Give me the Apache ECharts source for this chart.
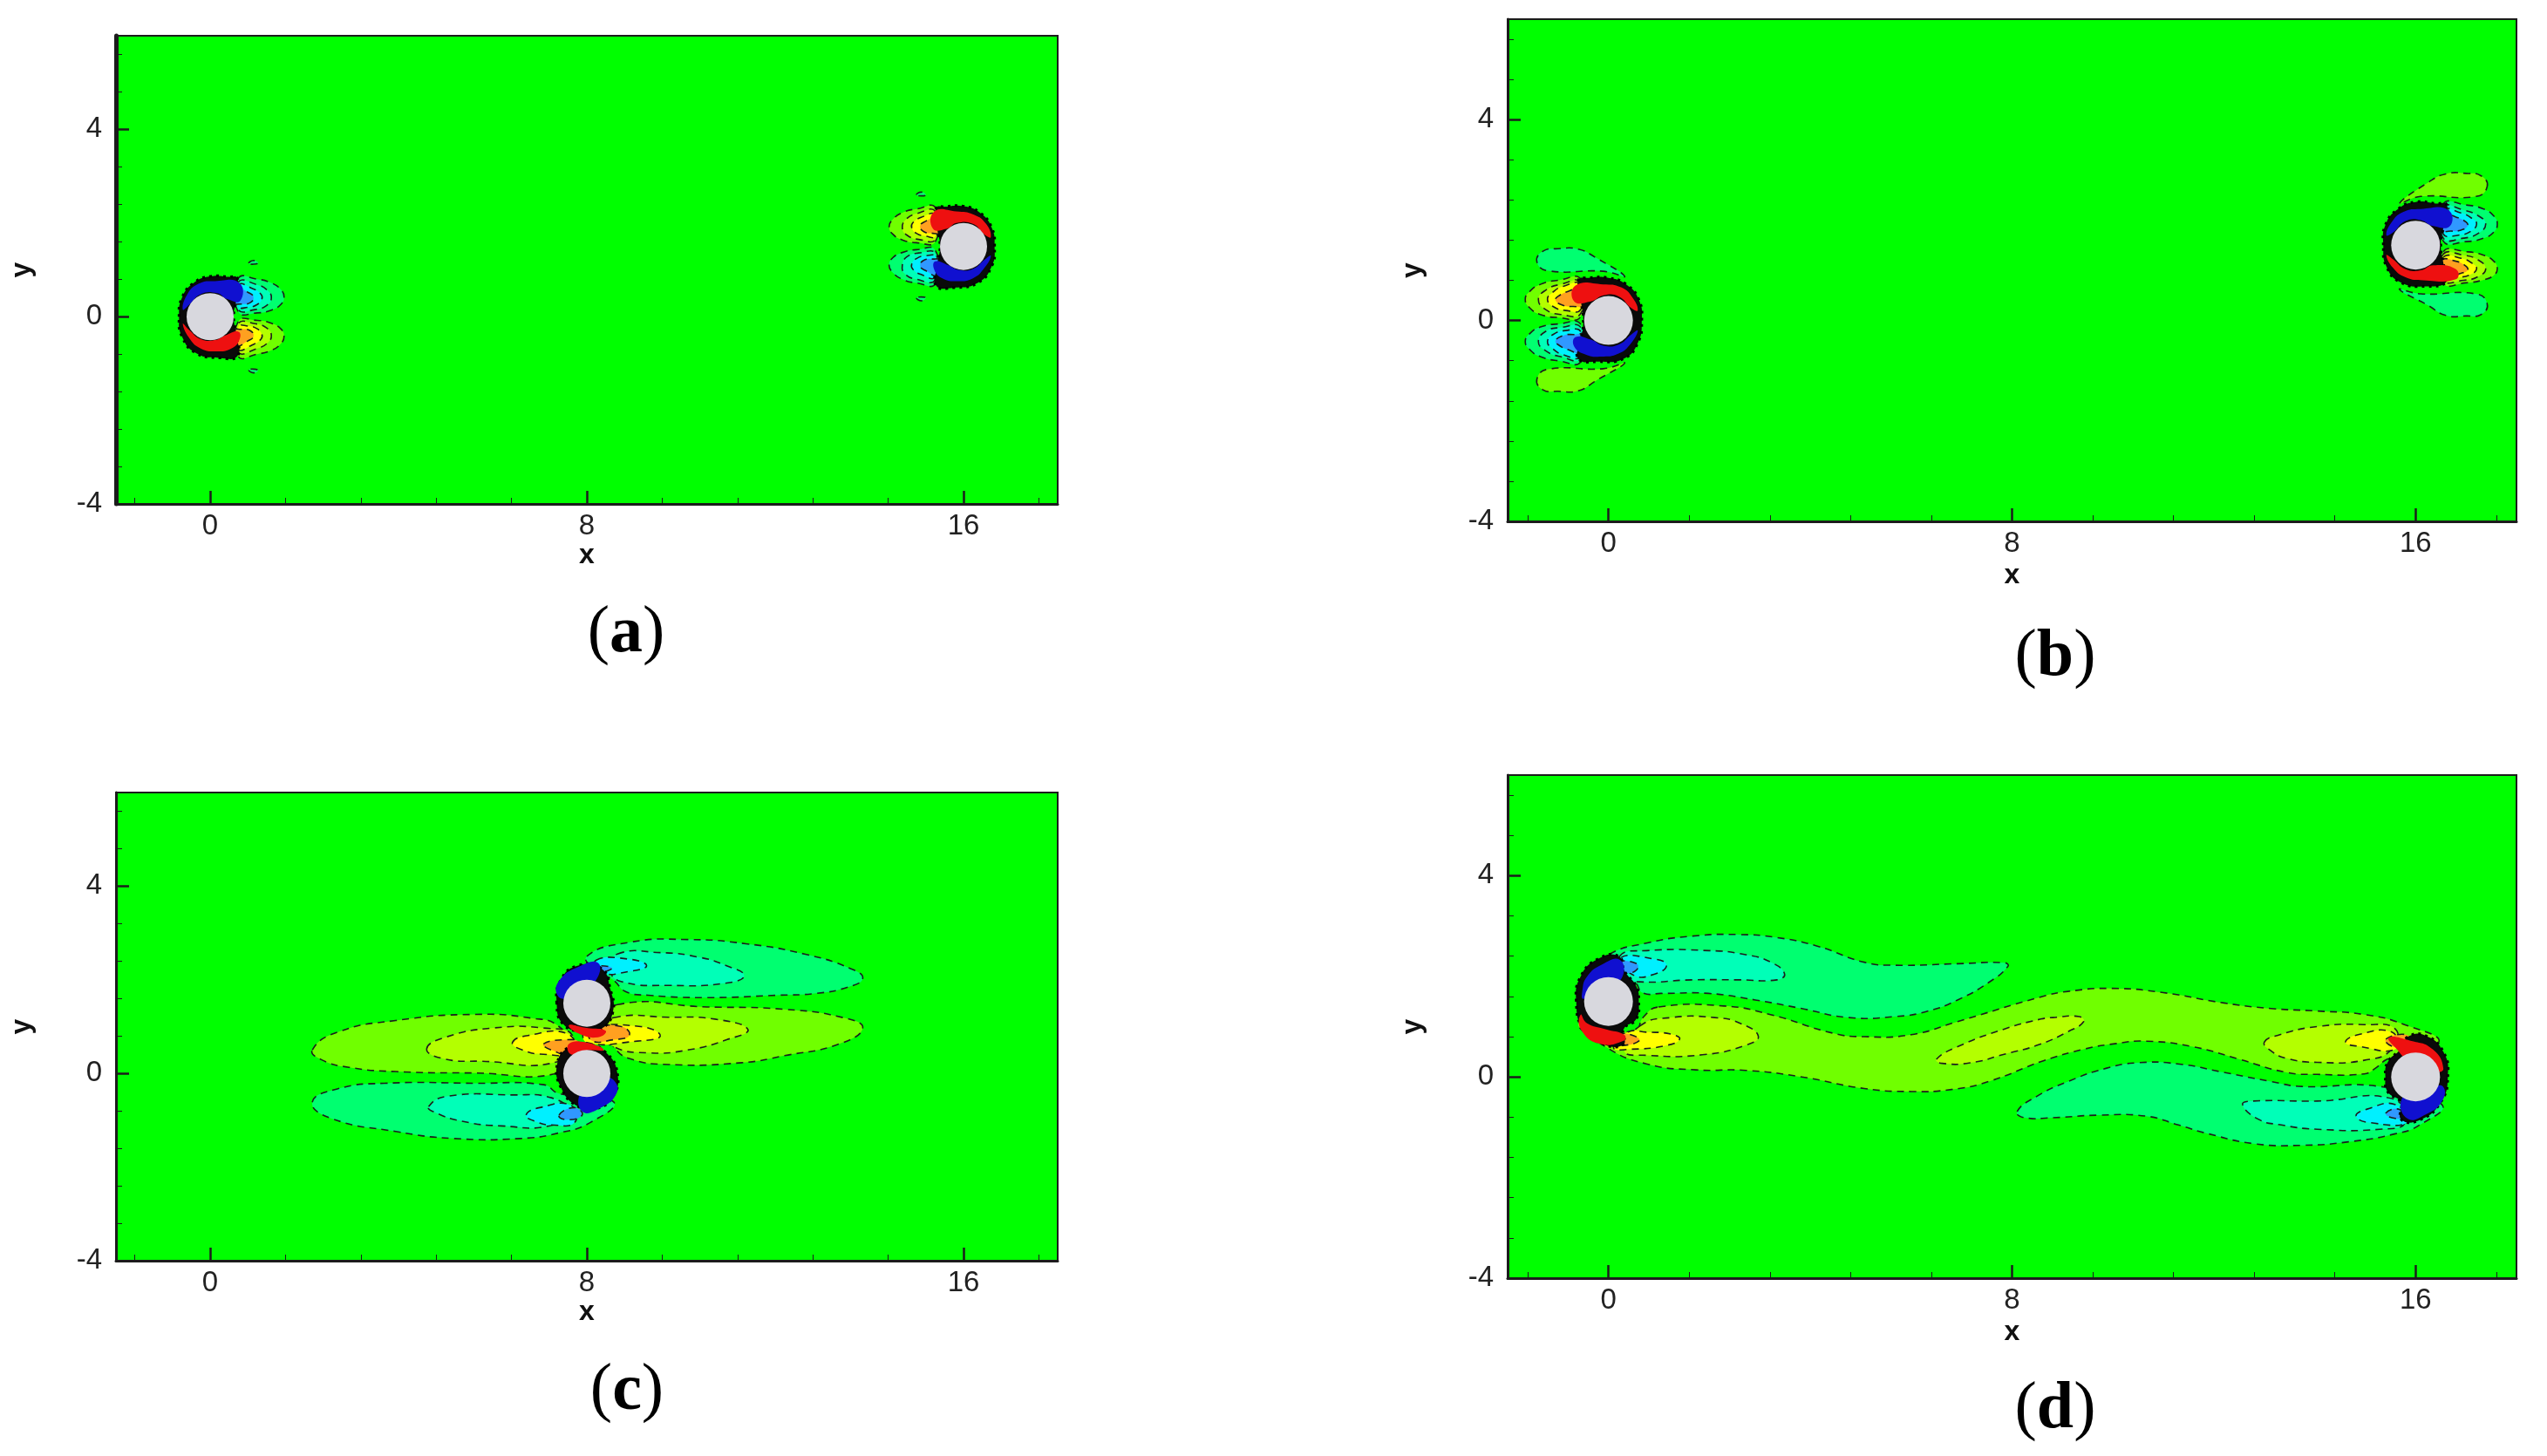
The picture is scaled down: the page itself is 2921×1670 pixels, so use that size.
<!DOCTYPE html>
<html>
<head>
<meta charset="utf-8">
<title>Vorticity contours</title>
<style>
  html, body { margin: 0; padding: 0; background: #fff; }
  #main { width: 2921px; height: 1670px; }
</style>
<script src="https://cdn.jsdelivr.net/npm/echarts@6/dist/echarts.min.js"></script>
</head>
<body>
<div id="main"></div>
<script>
// axis values
const xRange = [-2, 18];
const yRange = [-4, 6];
const xMajor = [0, 8, 16];
const xMinor = [-1.6, 1.6, 3.2, 4.8, 6.4, 9.6, 11.2, 12.8, 14.4, 17.6];
const yMajor = [-4, 0, 4];
const yMinor = [-3.2, -2.4, -1.6, -0.8, 0.8, 1.6, 2.4, 3.2, 4.8, 5.6];
const captions = ['a', 'b', 'c', 'd'];

// cylinder centres
const aCylinders = [[0, 0], [16, 1.5]];
const bCylinders = [[0, 0], [16, 1.5]];
const cCylinders = [[8, 0], [8, 1.5]];
const dCylinders = [[0, 1.5], [16, 0]];

// contour polygons in x,y units
// N = negative side (green to blue), P = positive side (green to red)
// panel a
const aN1 = [
  [[.6,.82],[1,.8],[1.3,.72],[1.5,.58],[1.57,.42],[1.5,.26],[1.3,.14],[1,.08],[.6,.1]],
  [[15.4,.7],[15,.72],[14.7,.8],[14.5,.94],[14.42,1.1],[14.5,1.26],[14.7,1.37],[15,1.43],[15.4,1.42]],
  [[.82,1.14],[.92,1.2],[1.02,1.15],[.92,1.12]],
  [[.82,-1.14],[.92,-1.2],[1.02,-1.15],[.92,-1.12]],
  [[15,2.6],[15.1,2.66],[15.2,2.6],[15.1,2.58]],
  [[15,.4],[15.1,.34],[15.2,.4],[15.1,.42]]
];
const aP1 = [
  [[.6,-.85],[1,-.8],[1.3,-.72],[1.5,-.58],[1.57,-.42],[1.5,-.26],[1.3,-.14],[1,-.08],[.6,-.1]],
  [[15.4,2.33],[15,2.3],[14.7,2.22],[14.5,2.08],[14.42,1.92],[14.5,1.76],[14.7,1.64],[15,1.58],[15.4,1.6]]
];
const aN2 = [
  [[.6,.74],[1,.68],[1.22,.56],[1.3,.4],[1.2,.24],[.95,.15],[.6,.15]],
  [[15.4,.78],[15,.8],[14.75,.92],[14.7,1.1],[14.8,1.28],[15.05,1.36],[15.4,1.35]]
];
const aP2 = [
  [[.6,-.76],[1,-.68],[1.22,-.56],[1.3,-.4],[1.2,-.24],[.95,-.15],[.6,-.15]],
  [[15.4,2.25],[15,2.2],[14.78,2.08],[14.7,1.9],[14.8,1.74],[15.05,1.65],[15.4,1.65]]
];
const aN3 = [
  [[.6,.68],[.9,.6],[1.08,.48],[1.1,.38],[1,.26],[.8,.2],[.6,.22]],
  [[15.4,.84],[15.1,.9],[14.92,1.02],[14.9,1.12],[15,1.24],[15.2,1.3],[15.4,1.28]]
];
const aP3 = [
  [[.6,-.7],[.9,-.6],[1.08,-.48],[1.1,-.38],[1,-.26],[.8,-.2],[.6,-.22]],
  [[15.4,2.18],[15.1,2.12],[14.92,2],[14.9,1.9],[15,1.78],[15.2,1.72],[15.4,1.72]]
];
const aN4 = [
  [[.55,.62],[.8,.52],[.92,.42],[.85,.3],[.65,.27],[.5,.3]],
  [[15.45,.88],[15.2,.98],[15.08,1.08],[15.15,1.2],[15.35,1.23],[15.5,1.2]]
];
const aP4 = [
  [[.55,-.62],[.8,-.52],[.92,-.42],[.85,-.3],[.65,-.27],[.5,-.3]],
  [[15.45,2.14],[15.2,2.04],[15.08,1.94],[15.15,1.82],[15.35,1.78],[15.5,1.8]]
];
const aRing = [
  [[-.66,0],[-.6,.4],[-.35,.72],[0,.86],[.4,.85],[.58,.82],[.56,.4],[.5,0],[.56,-.4],[.58,-.84],[.2,-.88],[-.3,-.78],[-.6,-.42]],
  [[16.66,1.5],[16.6,1.9],[16.35,2.22],[16,2.36],[15.6,2.35],[15.42,2.32],[15.44,1.9],[15.5,1.5],[15.44,1.1],[15.42,.66],[15.8,.62],[16.3,.72],[16.6,1.08]]
];
const aN5 = [
  [[-.58,.15],[-.5,.45],[-.25,.7],[.1,.76],[.62,.72],[.64,.34],[.35,.38],[.15,.5],[-.2,.48],[-.45,.25]],
  [[16.58,1.3],[16.45,1.05],[16.2,.82],[15.85,.76],[15.55,.82],[15.38,1],[15.4,1.18],[15.68,1.1],[15.9,1],[16.2,1.02],[16.45,1.22]]
];
const aP5 = [
  [[-.58,-.15],[-.45,-.45],[-.2,-.68],[.15,-.74],[.45,-.68],[.62,-.5],[.6,-.32],[.32,-.4],[.1,-.5],[-.2,-.48],[-.45,-.28]],
  [[16.58,1.7],[16.48,1.98],[16.22,2.18],[15.85,2.25],[15.38,2.25],[15.35,1.88],[15.65,1.88],[15.85,2],[16.2,1.98],[16.45,1.75]]
];

// panel b
const bN1 = [
  [[-1.42,1.17],[-1.3,1.38],[-1,1.43],[-.6,1.42],[-.25,1.25],[.32,.88],[-.1,.98],[-1.2,.99]],
  [[17.42,.33],[17.3,.12],[17,.09],[16.6,.1],[16.25,.3],[15.68,.62],[16.1,.53],[17.2,.53]],
  [[-.55,-.08],[-1,-.07],[-1.35,-.13],[-1.56,-.26],[-1.65,-.42],[-1.56,-.58],[-1.35,-.72],[-1,-.8],[-.55,-.82]],
  [[16.55,2.32],[17,2.3],[17.35,2.22],[17.55,2.08],[17.62,1.92],[17.55,1.76],[17.35,1.64],[17,1.57],[16.55,1.58]]
];
const bP1 = [
  [[-1.42,-1.17],[-1.3,-1.38],[-1,-1.41],[-.6,-1.4],[-.25,-1.2],[.32,-.85],[-.1,-.96],[-1.2,-.97]],
  [[17.42,2.67],[17.3,2.88],[17,2.93],[16.6,2.92],[16.25,2.75],[15.68,2.33],[16.1,2.47],[17.2,2.47]],
  [[-.55,.82],[-1,.8],[-1.35,.72],[-1.56,.58],[-1.65,.42],[-1.56,.25],[-1.35,.12],[-1,.06],[-.55,.08]],
  [[16.55,1.37],[17,1.37],[17.35,1.3],[17.55,1.18],[17.62,1.03],[17.55,.9],[17.35,.81],[17,.75],[16.55,.74]]
];
const bN2 = [
  [[-.55,-.14],[-.95,-.14],[-1.25,-.22],[-1.39,-.42],[-1.25,-.6],[-.95,-.72],[-.55,-.76]],
  [[16.55,2.26],[16.95,2.2],[17.25,2.08],[17.39,1.92],[17.25,1.74],[16.95,1.64],[16.55,1.64]]
];
const bP2 = [
  [[-.55,.76],[-.95,.72],[-1.25,.6],[-1.39,.42],[-1.25,.22],[-.95,.12],[-.55,.14]],
  [[16.55,1.32],[16.95,1.3],[17.25,1.2],[17.39,1.03],[17.25,.88],[16.95,.8],[16.55,.8]]
];
const bN3 = [
  [[-.55,-.22],[-.85,-.2],[-1.1,-.28],[-1.21,-.42],[-1.12,-.55],[-.9,-.68],[-.55,-.72]],
  [[16.55,2.2],[16.9,2.14],[17.12,2.03],[17.21,1.92],[17.1,1.78],[16.85,1.7],[16.55,1.72]]
];
const bP3 = [
  [[-.55,.72],[-.9,.68],[-1.12,.55],[-1.21,.42],[-1.1,.28],[-.85,.2],[-.55,.22]],
  [[16.55,1.26],[16.9,1.24],[17.12,1.14],[17.21,1.03],[17.1,.92],[16.85,.86],[16.55,.86]]
];
const bN4 = [
  [[-.45,-.3],[-.7,-.28],[-.9,-.3],[-1.05,-.4],[-1,-.48],[-.8,-.58],[-.5,-.66]],
  [[16.5,2.14],[16.8,2.06],[17,1.96],[17.03,1.88],[16.9,1.8],[16.7,1.78],[16.45,1.8]]
];
const bP4 = [
  [[-.5,.66],[-.8,.58],[-1,.48],[-1.05,.4],[-.9,.3],[-.7,.28],[-.45,.3]],
  [[16.5,1.2],[16.8,1.18],[17,1.08],[17.03,1],[16.9,.94],[16.7,.9],[16.45,.92]]
];
const bRing = [
  [[.66,0],[.6,.42],[.35,.72],[0,.85],[-.4,.85],[-.6,.8],[-.55,.4],[-.5,0],[-.55,-.4],[-.6,-.76],[-.2,-.82],[.3,-.76],[.58,-.45]],
  [[15.36,1.5],[15.4,1.9],[15.65,2.22],[16,2.36],[16.4,2.33],[16.62,2.3],[16.56,1.9],[16.5,1.5],[16.56,1.1],[16.62,.78],[16.2,.68],[15.7,.76],[15.42,1.08]]
];
const bN5 = [
  [[.58,-.2],[.45,-.45],[.2,-.66],[-.15,-.72],[-.45,-.68],[-.68,-.52],[-.65,-.33],[-.35,-.38],[-.1,-.5],[.2,-.48],[.45,-.28]],
  [[15.42,1.7],[15.52,1.95],[15.75,2.16],[16.1,2.22],[16.65,2.2],[16.68,1.88],[16.35,1.88],[16.1,2],[15.8,1.98],[15.55,1.75]]
];
const bP5 = [
  [[.58,.2],[.48,.45],[.25,.66],[-.1,.72],[-.65,.7],[-.68,.38],[-.35,.38],[-.1,.5],[.2,.48],[.45,.25]],
  [[15.42,1.3],[15.55,1.05],[15.8,.86],[16.15,.8],[16.8,.82],[16.8,1.02],[16.35,1.1],[16.1,1],[15.8,1.02],[15.55,1.22]]
];

// panel c
const cN1 = [
  [[8,2.5],[8.9,2.8],[10.14,2.86],[11.38,2.77],[12.62,2.55],[13.6,2.24],[13.86,2.03],[13.53,1.84],[12.87,1.71],[12.04,1.67],[10.55,1.62],[9.3,1.67],[8.82,1.75],[8.57,1.99],[8.2,2.2]],
  [[2.17,-.61],[2.7,-.33],[3.7,-.21],[5.6,-.21],[7.08,-.24],[7.41,-.43],[8.57,-.61],[8.07,-1.05],[7.41,-1.27],[6.59,-1.39],[5.18,-1.39],[3.94,-1.24],[2.54,-.95]]
];
const cP1 = [
  [[8.65,1.47],[10.55,1.42],[12.2,1.37],[13.45,1.19],[13.86,.97],[13.36,.63],[12.2,.38],[11.3,.23],[9.73,.19],[8.9,.32],[8.57,.57],[8.3,1]],
  [[2.17,.5],[2.7,.88],[3.94,1.13],[5.6,1.26],[6.83,1.18],[7.41,1],[7.7,.5],[7.41,.01],[5.6,.01],[3.94,.04],[2.95,.13],[2.37,.29]]
];
const cN2 = [
  [[8.65,2.55],[9.56,2.58],[10.39,2.48],[10.97,2.3],[11.34,2.09],[10.97,1.93],[9.73,1.88],[8.74,1.96],[8.5,2.2]],
  [[4.64,-.71],[5.02,-.49],[6.42,-.46],[7.25,-.52],[7.6,-.8],[7.25,-1.11],[6.17,-1.12],[5.35,-1.02],[4.77,-.83]]
];
const cP2 = [
  [[8.57,1.19],[9.73,1.2],[10.72,1.16],[11.42,.94],[10.97,.72],[10.14,.5],[9.31,.44],[8.57,.57],[8.3,.9]],
  [[4.6,.53],[5.02,.78],[6.01,.97],[7.08,.97],[7.7,.8],[7.41,.26],[5.76,.26],[4.93,.32]]
];
const cN3 = [
  [[8.2,2.42],[8.9,2.44],[9.27,2.3],[8.9,2.18],[8.32,2.15]],
  [[6.71,-.89],[7,-.73],[7.66,-.68],[7.74,-1.05],[7.25,-1.1],[6.92,-1.03]]
];
const cP3 = [
  [[8,.95],[9.15,1],[9.56,.8],[9.07,.69],[8,.66]],
  [[6.42,.66],[6.75,.81],[7.58,.85],[7.74,.44],[7.08,.41],[6.63,.5]]
];
const cN4 = [
  [[8.05,2.26],[8.53,2.26],[8.3,2.14],[8.05,2.1]],
  [[7.41,-.89],[7.74,-.73],[7.9,-.89],[7.58,-.99]]
];
const cP4 = [
  [[8.1,.95],[8.74,1],[8.9,.81],[8.57,.72],[8.1,.7]],
  [[7.08,.63],[7.58,.72],[7.83,.66],[7.66,.41],[7.25,.5]]
];
const cRing = [
  [[7.36,1.5],[7.45,2],[7.8,2.3],[8.3,2.25],[8.5,1.8],[8.55,1.3],[8.3,.95],[7.9,.9],[7.5,1.05]],
  [[8.65,0],[8.55,-.5],[8.2,-.75],[7.8,-.7],[7.45,-.3],[7.37,.2],[7.6,.55],[8,.62],[8.4,.45]]
];
const cN5 = [
  [[7.37,1.68],[7.42,1.99],[7.83,2.28],[8.24,2.36],[8.2,2],[7.9,1.8],[7.6,1.6]],
  [[8.6,-.18],[8.63,-.43],[8.32,-.72],[7.91,-.82],[7.87,-.4],[8.2,-.3],[8.4,-.1]]
];
const cP5 = [
  [[7.62,1.03],[7.99,.97],[8.4,.91],[8.24,.77],[7.83,.85]],
  [[7.62,.63],[7.99,.66],[8.36,.5],[7.99,.49],[7.66,.41]]
];

// panel d
const dN1 = [
  [[-.49,1.99],[0,2.43],[.75,2.66],[1.67,2.8],[2.6,2.83],[3.34,2.77],[4.14,2.6],[5.07,2.28],[5.68,2.22],[6.92,2.25],[7.85,2.27],[7.92,2.2],[7.54,1.88],[6.92,1.53],[6.3,1.3],[5.68,1.2],[4.76,1.18],[3.83,1.36],[2.91,1.53],[1.98,1.66],[1.05,1.66],[.68,1.67],[.5,1.88]],
  [[8.1,-.69],[8.5,-.38],[9.11,-.09],[9.86,.17],[10.47,.28],[11.28,.26],[12.2,.09],[13.13,-.09],[13.74,-.19],[15.29,-.19],[16.52,-.55],[16.09,-.95],[15.6,-1.13],[14.67,-1.29],[13.74,-1.36],[12.82,-1.33],[11.89,-1.13],[11.28,-.95],[10.66,-.78],[9.73,-.76],[8.81,-.81],[8.25,-.81]]
];
const dP1 = [
  [[.99,1.39],[2.29,1.41],[3.21,1.24],[4.45,.87],[5.07,.8],[6,.84],[6.92,1.1],[8.57,1.59],[9.11,1.7],[9.98,1.76],[10.97,1.68],[12.2,1.47],[13.13,1.36],[14.05,1.31],[14.98,1.24],[15.78,1.04],[16.46,.69],[15.47,.37],[15.2,.17],[14.98,.06],[14.05,.05],[13.44,.09],[12.51,.35],[11.58,.6],[10.66,.71],[10.04,.66],[9.42,.55],[8.62,.32],[7.54,-.09],[6.8,-.25],[6,-.29],[5.07,-.23],[3.83,0],[2.72,.13],[1.73,.14],[.75,.26],[-.06,.6],[-.58,1.07],[.5,.9],[.7,1.2]]
];
const dN2 = [
  [[.22,2.4],[.75,2.51],[2,2.51],[2.72,2.43],[3.22,2.28],[3.49,2.05],[3.34,1.93],[2.6,1.93],[1.67,1.93],[.62,1.89],[.38,1.99]],
  [[12.57,-.55],[12.76,-.48],[14.05,-.48],[15.53,-.43],[15.8,-.9],[15.29,-1.04],[14.05,-1.04],[13.31,-.95],[12.88,-.84]]
];
const dP2 = [
  [[.62,1.01],[1.24,1.18],[2.1,1.18],[2.6,1.07],[2.97,.81],[2.72,.63],[1.86,.44],[.75,.43],[.31,.52]],
  [[6.5,.35],[6.92,.6],[7.84,.95],[8.57,1.15],[8.81,1.18],[9.33,1.2],[9.42,1.1],[9.11,.9],[8.5,.63],[7.88,.46],[7.17,.28],[6.61,.27]],
  [[13,.69],[13.31,.84],[14.05,1],[14.98,1.04],[15.6,.95],[15.53,.55],[14.98,.33],[14.05,.29],[13.44,.37],[13.13,.52]]
];
const dN3 = [
  [[.25,2.37],[.93,2.34],[1.15,2.22],[.93,2.05],[.5,2.02]],
  [[14.82,-.78],[15.04,-.64],[15.6,-.55],[15.84,-.9],[15.1,-.91]]
];
const dP3 = [
  [[.38,.89],[.75,.89],[1.24,.85],[1.41,.75],[1.12,.62],[.44,.55],[.1,.58]],
  [[14.61,.69],[14.86,.84],[15.53,.89],[15.6,.55],[14.86,.61]]
];
const dN4 = [
  [[.19,2.28],[.56,2.25],[.56,2.13],[.38,2.06],[.22,2.08]],
  [[15.41,-.72],[15.66,-.64],[15.81,-.81],[15.53,-.81]]
];
const dP4 = [
  [[.19,.84],[.44,.84],[.61,.72],[.19,.62],[-.05,.68]],
  [[15.41,.75],[15.84,.83],[15.78,.61],[15.53,.61]]
];
const dRing = [
  [[-.64,1.5],[-.55,2],[-.2,2.35],[.2,2.4],[.32,2.1],[.55,1.8],[.6,1.5],[.55,1.15],[.3,.95],[.3,.65],[-.1,.65],[-.5,.95]],
  [[16.64,0],[16.55,.5],[16.2,.82],[15.85,.8],[15.7,.55],[15.45,.3],[15.4,0],[15.45,-.3],[15.7,-.5],[15.72,-.85],[16.1,-.85],[16.5,-.5]]
];
const dN5 = [
  [[-.52,1.7],[-.43,1.99],[-.12,2.24],[.22,2.33],[.28,2],[0,1.8],[-.3,1.7],[-.5,1.55]],
  [[16.55,-.2],[16.52,-.49],[16.21,-.74],[15.84,-.83],[15.72,-.45],[16.03,-.3],[16.32,-.2]]
];
const dP5 = [
  [[-.55,1.24],[-.43,1.07],[-.06,.95],[.31,.84],[.3,.72],[-.18,.66],[-.55,.95]],
  [[15.47,.78],[15.9,.72],[16.34,.55],[16.55,.17],[16.4,.1],[16.21,.25],[15.84,.35],[15.63,.55]]
];

const panels = [
  { grid: { left: 133, top: 41, width: 1080, height: 537 }, nameGapX: 43, nameGapY: 92, cap: [713, 722], r: 54, leftAxis: 5, cyl: aCylinders,
    levels: [aN1, aP1, aN2, aP2, aN3, aP3, aN4, aP4, aRing, aN5, aP5] },
  { grid: { left: 1729, top: 22, width: 1157, height: 576 }, nameGapX: 46, nameGapY: 93, cap: [2352, 749], r: 56, leftAxis: 3, cyl: bCylinders,
    levels: [bN1, bP1, bN2, bP2, bN3, bP3, bN4, bP4, bRing, bN5, bP5] },
  { grid: { left: 133, top: 909, width: 1080, height: 537 }, nameGapX: 43, nameGapY: 92, cap: [714, 1591], r: 54, leftAxis: 3, cyl: cCylinders,
    levels: [cN1, cP1, cN2, cP2, cN3, cP3, cN4, cP4, cRing, cN5, cP5] },
  { grid: { left: 1729, top: 889, width: 1157, height: 577 }, nameGapX: 46, nameGapY: 93, cap: [2352, 1612], r: 56, leftAxis: 3, cyl: dCylinders,
    levels: [dN1, dP1, dN2, dP2, dN3, dP3, dN4, dP4, dRing, dN5, dP5] }
];

const levelColors = ['#00ff70', '#70ff00', '#00ffb8', '#b4ff00', '#00f0ff', '#ffff00', '#3098ff', '#ffa020', '#0a0a0a', '#1010d0', '#ee1010'];
const RING = 8;
const darkLine = '#1c1c1c';
const fontName = '"Liberation Sans", Arial, sans-serif';

function contourItem(poly, level) {
  return function (params, api) {
    if (params.dataIndex !== 0) return null;
    const isRing = level === RING;
    const isSolid = level > RING;
    return {
      type: 'polygon',
      shape: { points: poly.map(p => api.coord(p)), smooth: 0.5 },
      style: {
        fill: levelColors[level],
        stroke: isRing ? '#000' : (isSolid ? 'none' : darkLine),
        lineWidth: isRing ? 3 : 1.6,
        lineDash: isRing ? [3, 5] : [8, 6]
      }
    };
  };
}

const option = {
  animation: false,
  backgroundColor: '#ffffff',
  grid: [], xAxis: [], yAxis: [], series: [], title: []
};

panels.forEach((panel, i) => {
  option.grid.push(Object.assign({
    show: true, backgroundColor: '#00ff00', borderColor: darkLine, borderWidth: 2
  }, panel.grid));

  // main axis carries line, labels and long ticks
  option.xAxis.push({
    type: 'value', gridIndex: i, min: xRange[0], max: xRange[1],
    name: 'x', nameLocation: 'middle', nameGap: panel.nameGapX,
    nameTextStyle: { fontFamily: fontName, fontWeight: 'bold', fontSize: 32, color: '#111' },
    splitLine: { show: false },
    axisLine: { show: true, onZero: false, lineStyle: { color: darkLine, width: 3 } },
    axisTick: { show: true, inside: true, length: 15, customValues: xMajor, lineStyle: { color: darkLine, width: 2.5 } },
    axisLabel: { show: true, customValues: xMajor, margin: 9, fontFamily: fontName, fontSize: 33, color: '#222' }
  });
  option.yAxis.push({
    type: 'value', gridIndex: i, min: yRange[0], max: yRange[1],
    name: 'y', nameLocation: 'middle', nameGap: panel.nameGapY,
    nameTextStyle: { fontFamily: fontName, fontWeight: 'bold', fontSize: 32, color: '#111' },
    splitLine: { show: false },
    axisLine: { show: true, onZero: false, lineStyle: { color: darkLine, width: panel.leftAxis } },
    axisTick: { show: true, inside: true, length: 15, customValues: yMajor, lineStyle: { color: darkLine, width: 2.5 } },
    axisLabel: { show: true, customValues: yMajor, margin: 16, fontFamily: fontName, fontSize: 33, color: '#222' }
  });
  // second pair only for the short ticks
  option.xAxis.push({
    type: 'value', gridIndex: i, min: xRange[0], max: xRange[1], position: 'bottom',
    splitLine: { show: false }, axisLine: { show: false, onZero: false }, axisLabel: { show: false },
    axisTick: { show: true, inside: true, length: 7, customValues: xMinor, lineStyle: { color: darkLine, width: 1 } }
  });
  option.yAxis.push({
    type: 'value', gridIndex: i, min: yRange[0], max: yRange[1], position: 'left',
    splitLine: { show: false }, axisLine: { show: false, onZero: false }, axisLabel: { show: false },
    axisTick: { show: true, inside: true, length: 7, customValues: yMinor, lineStyle: { color: darkLine, width: 1 } }
  });

  panel.levels.forEach((polys, level) => {
    polys.forEach(poly => {
      option.series.push({
        type: 'custom', xAxisIndex: i * 2, yAxisIndex: i * 2,
        silent: true, clip: true,
        data: poly, encode: { x: 0, y: 1 },
        renderItem: contourItem(poly, level),
        z: 2 + level
      });
    });
  });

  option.series.push({
    type: 'scatter', xAxisIndex: i * 2, yAxisIndex: i * 2, silent: true, z: 20,
    data: panel.cyl, symbol: 'circle', symbolSize: panel.r,
    itemStyle: { color: '#d8d8de', opacity: 1 }
  });

  option.title.push({
    text: '{p|(}{b|' + captions[i] + '}{p|)}',
    left: panel.cap[0], top: panel.cap[1], textAlign: 'center', textVerticalAlign: 'middle',
    textStyle: {
      fontWeight: 'normal',
      rich: {
        p: { fontFamily: '"Liberation Serif", serif', fontSize: 76, fontWeight: 'normal', color: '#000' },
        b: { fontFamily: '"Liberation Serif", serif', fontSize: 76, fontWeight: 'bold', color: '#000' }
      }
    }
  });
});

let myChart = echarts.init(document.getElementById('main'));
myChart.setOption(option);
</script>
</body>
</html>
